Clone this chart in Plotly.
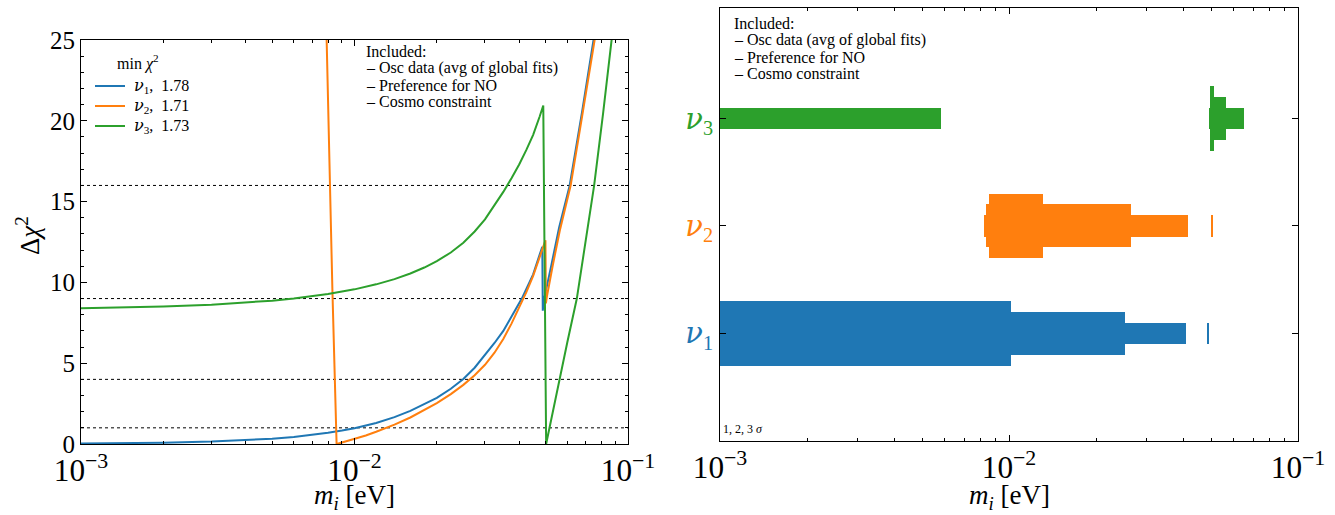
import plotly.graph_objects as go

W, H = 1335, 515
FONT = "Liberation Serif"
GREEK = "DejaVu Serif"

# ---------------- data: left panel (Delta chi^2 vs m_i) ----------------
m_nu1 = [0.001, 0.0015, 0.002, 0.003, 0.004, 0.005, 0.006, 0.007, 0.008, 0.009, 0.010,
         0.012, 0.014, 0.016, 0.018, 0.020, 0.0225, 0.025, 0.0275, 0.030, 0.0325, 0.035,
         0.0375, 0.0409, 0.0425, 0.045, 0.0475, 0.0486, 0.0488, 0.0494, 0.0525, 0.0560,
         0.0612, 0.0645, 0.068, 0.0748, 0.080]
chi_nu1 = [0.03, 0.05, 0.08, 0.15, 0.23, 0.33, 0.44, 0.56, 0.69, 0.83, 0.98,
           1.30, 1.66, 2.05, 2.45, 2.85, 3.42, 4.02, 4.72, 5.5, 6.25, 7.0,
           7.85, 9.0, 9.6, 10.5, 11.7, 12.2, 8.25, 9.0, 11.1, 13.4,
           16.0, 18.2, 20.6, 25.0, 28.6]

m_nu2 = [0.0077, 0.0079, 0.0083, 0.0086, 0.009, 0.010, 0.011, 0.012, 0.013, 0.014, 0.016,
         0.018, 0.020, 0.0225, 0.025, 0.0275, 0.030, 0.0325, 0.035, 0.0375, 0.040, 0.0425,
         0.045, 0.0475, 0.0499, 0.0501, 0.0505, 0.053, 0.0563, 0.0617, 0.0648, 0.068,
         0.0755, 0.081]
chi_nu2 = [30.0, 25.4, 9.6, 0.0, 0.09, 0.31, 0.53, 0.76, 0.98, 1.2, 1.64,
           2.09, 2.53, 3.09, 3.66, 4.25, 4.9, 5.65, 6.5, 7.45, 8.45, 9.4,
           10.4, 11.5, 12.6, 8.7, 9.1, 11.0, 13.2, 16.0, 18.1, 20.3,
           25.0, 28.5]

m_nu3 = [0.001, 0.0015, 0.002, 0.003, 0.004, 0.005, 0.006, 0.007, 0.008, 0.009, 0.010,
         0.012, 0.014, 0.016, 0.018, 0.020, 0.0225, 0.025, 0.0275, 0.030, 0.0325, 0.035,
         0.0375, 0.040, 0.0425, 0.045, 0.0475, 0.0490, 0.0502, 0.053, 0.0561, 0.060,
         0.065, 0.070, 0.0752, 0.081, 0.0875, 0.095]
chi_nu3 = [8.40, 8.45, 8.51, 8.62, 8.74, 8.87, 9.00, 9.14, 9.28, 9.43, 9.57,
           9.88, 10.2, 10.55, 10.92, 11.32, 11.85, 12.45, 13.15, 13.9, 14.75, 15.6,
           16.45, 17.3, 18.2, 19.13, 20.25, 20.95, 0.0, 1.95, 4.0, 6.3,
           9.0, 12.6, 16.0, 20.4, 25.0, 30.5]

min_chi2 = ["1.78", "1.71", "1.73"]
nu = f'<span style="font-family:{GREEK}"><i>ν</i></span>'
labels = [nu + "<sub>1</sub>", nu + "<sub>2</sub>", nu + "<sub>3</sub>"]
colors = ["#1f77b4", "#ff7f0e", "#2ca02c"]
sigma_levels = [1, 4, 9, 16]
included_lines = ["Included:", "– Osc data (avg of global fits)", "– Preference for NO", "– Cosmo constraint"]

# ---------------- data: right panel (allowed mass ranges) ----------------
# intervals [low, high] in eV for 1, 2, 3 sigma
nu1_1s = [[1e-4, 0.0102]]
nu1_2s = [[1e-4, 0.0252]]
nu1_3s = [[1e-4, 0.0409], [0.0487, 0.0494]]
nu2_1s = [[0.0085, 0.0131]]
nu2_2s = [[0.0083, 0.0264]]
nu2_3s = [[0.0082, 0.0415], [0.0502, 0.0505]]
nu3_1s = [[0.0496, 0.0512]]
nu3_2s = [[0.0495, 0.0564]]
nu3_3s = [[1e-4, 0.00582], [0.0494, 0.065]]
bar_thickness = [0.6, 0.4, 0.2]   # 1, 2, 3 sigma

ranges = [[nu1_1s, nu1_2s, nu1_3s], [nu2_1s, nu2_2s, nu2_3s], [nu3_1s, nu3_2s, nu3_3s]]

fig = go.Figure()

# left curves
for m, c, lab, mc, col in zip([m_nu1, m_nu2, m_nu3], [chi_nu1, chi_nu2, chi_nu3], labels, min_chi2, colors):
    fig.add_trace(go.Scatter(x=m, y=c, mode="lines", line=dict(color=col, width=2),
                             name=f"{lab},  {mc}", xaxis="x", yaxis="y", cliponaxis=True,
                             showlegend=False))

# right bars
for k, (levels, col) in enumerate(zip(ranges, colors)):
    for s in [2, 1, 0]:
        for lo, hi in levels[s]:
            fig.add_trace(go.Bar(y=[k], x=[hi - lo], base=[lo], width=bar_thickness[s],
                                 orientation="h", marker=dict(color=col, line=dict(width=0)),
                                 xaxis="x2", yaxis="y2", showlegend=False))

# dotted threshold lines
shapes = []
for lv in sigma_levels:
    shapes.append(dict(type="line", xref="x domain", yref="y", x0=0, x1=1, y0=lv, y1=lv,
                       line=dict(color="black", width=1, dash="dot"), layer="below"))

def px(x):
    return x / W

def py(y):
    return (H - y) / H

tickfont = dict(family=FONT, size=25, color="black")
common_ax = dict(showline=True, linecolor="black", linewidth=1.2, mirror="ticks",
                 ticks="inside", ticklen=6, tickwidth=1, tickcolor="black",
                 showgrid=False, zeroline=False)

xdom1 = [px(81), px(628)]
xdom2 = [px(720), px(1298)]
ydom1 = [py(444), py(40)]
ydom2 = [py(440.7), py(8)]
minor_log = dict(ticks="inside", ticklen=3, tickwidth=0.8, tickcolor="black", dtick="D1", showgrid=False)

fig.update_layout(
    width=W, height=H, margin=dict(l=0, r=0, t=0, b=0, autoexpand=False),
    paper_bgcolor="white", plot_bgcolor="white",
    barmode="overlay", bargap=0, showlegend=False,
    font=dict(family=FONT, color="black"),
    xaxis=dict(domain=xdom1, type="log", range=[-3, -1], dtick=1, exponentformat="power",
               showexponent="all", anchor="y", minor=minor_log, tickfont=tickfont, **common_ax),
    yaxis=dict(domain=ydom1, range=[0, 25], dtick=5, anchor="x", tickfont=tickfont,
               minor=dict(ticks="inside", ticklen=3, tickwidth=0.8, tickcolor="black", dtick=1, showgrid=False),
               **common_ax),
    xaxis2=dict(domain=xdom2, type="log", range=[-3, -1], dtick=1, exponentformat="power",
                showexponent="all", anchor="y2", minor=minor_log, tickfont=tickfont, **common_ax),
    yaxis2=dict(domain=ydom2, range=[-1, 3.03], anchor="x2",
                tickvals=[0, 1, 2],
                ticktext=[f'<span style="color:{c}">{l}</span>' for c, l in zip(colors, labels)],
                tickfont=dict(family=FONT, size=29), **common_ax),
)

small = dict(family=FONT, size=16, color="black")
ann = []
# "Included" boxes, one line each
for x0, y0 in [(364, 51), (732, 23)]:
    for i, line in enumerate(included_lines):
        ann.append(dict(text=line, x=px(x0), y=py(y0 + 17 * i), xref="paper", yref="paper",
                        xanchor="left", yanchor="middle", showarrow=False, font=small))

# legend (min chi^2) drawn by hand
ann.append(dict(text="min <i>χ</i><sup>2</sup>", x=px(138), y=py(62), xref="paper", yref="paper",
                xanchor="center", yanchor="middle", showarrow=False, font=small))
for i, (lab, mc, col) in enumerate(zip(labels, min_chi2, colors)):
    yy = 86 + 20 * i
    shapes.append(dict(type="line", xref="paper", yref="paper", x0=px(95), x1=px(125),
                       y0=py(yy), y1=py(yy), line=dict(color=col, width=2)))
    ann.append(dict(text=f"{lab},  {mc}", x=px(132), y=py(yy), xref="paper", yref="paper",
                    xanchor="left", yanchor="middle", showarrow=False, font=small))

ann += [
    dict(text="1, 2, 3 <i>σ</i>", x=px(721), y=py(438), xref="paper", yref="paper",
         xanchor="left", yanchor="bottom", showarrow=False,
         font=dict(family=FONT, size=12, color="black")),
    dict(text="<i>m</i><sub><i>i</i></sub> [eV]", x=(xdom1[0] + xdom1[1]) / 2, y=py(497),
         xref="paper", yref="paper", xanchor="center", yanchor="middle", showarrow=False,
         font=dict(family=FONT, size=27, color="black")),
    dict(text="<i>m</i><sub><i>i</i></sub> [eV]", x=(xdom2[0] + xdom2[1]) / 2, y=py(497),
         xref="paper", yref="paper", xanchor="center", yanchor="middle", showarrow=False,
         font=dict(family=FONT, size=27, color="black")),
    dict(text="Δ<i>χ</i><sup>2</sup>", x=px(28), y=py(236), xref="paper", yref="paper",
         xanchor="center", yanchor="middle", textangle=-90, showarrow=False,
         font=dict(family=FONT, size=27, color="black")),
]
fig.update_layout(annotations=ann, shapes=shapes)

fig.write_html("out.html", config={"displayModeBar": False},
               post_script="document.body.style.margin='0';document.body.style.overflow='hidden';")
